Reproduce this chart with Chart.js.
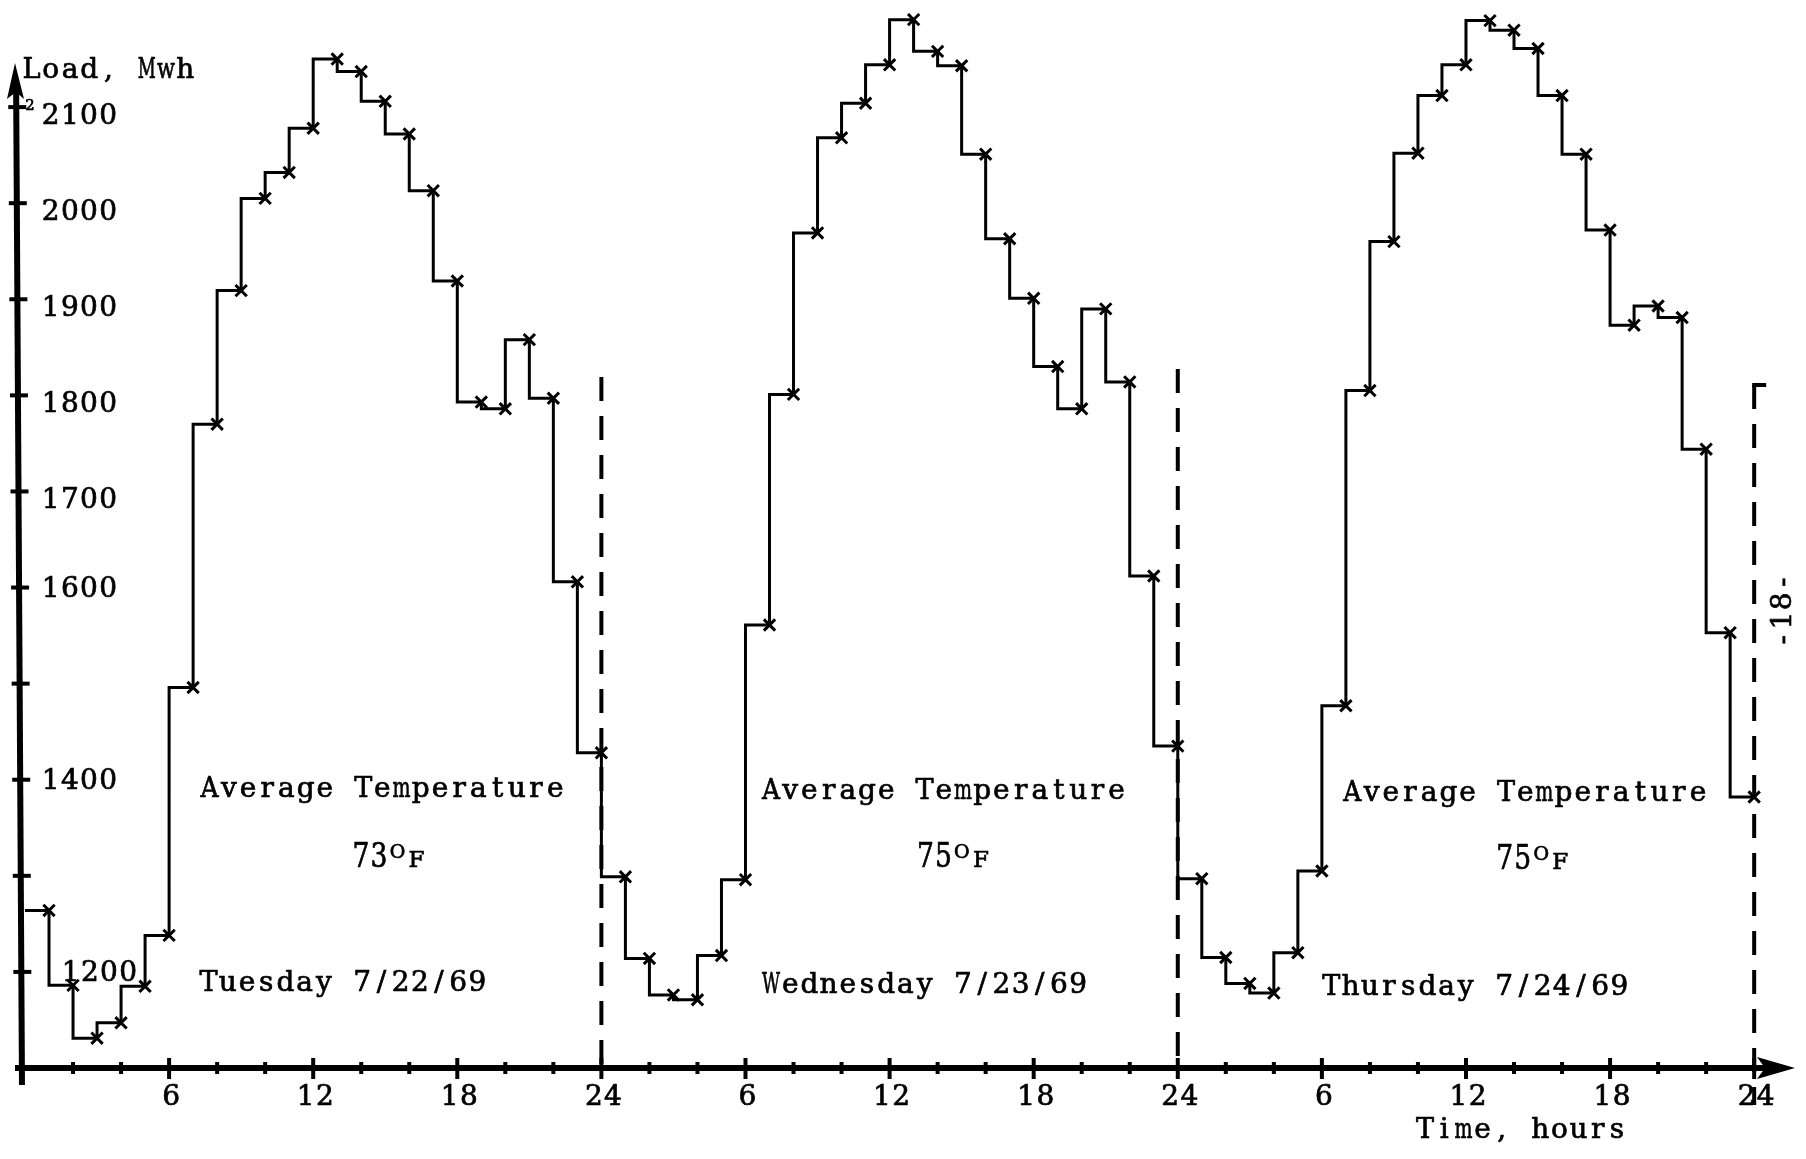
<!DOCTYPE html>
<html>
<head>
<meta charset="utf-8">
<script src="https://cdn.jsdelivr.net/npm/chart.js@4.4.0/dist/chart.umd.min.js"></script>
<style>
  html, body { margin: 0; padding: 0; background: #fff; }
  canvas { display: block; }
</style>
</head>
<body>
<canvas id="chart" width="1806" height="1159"></canvas>
<script>
// hourly load (Mwh), value at the end of each hour
const tuesday   = [1264, 1186, 1131, 1147, 1185, 1238, 1496, 1770, 1909, 2005, 2032, 2078,
                   2150, 2137, 2106, 2072, 2013, 1919, 1793, 1786, 1858, 1797, 1606, 1428]
const wednesday = [1299, 1214, 1176, 1171, 1217, 1296, 1561, 1801, 1969, 2068, 2104, 2144,
                   2191, 2158, 2143, 2051, 1963, 1901, 1830, 1786, 1890, 1814, 1612, 1435]
const thursday  = [1297, 1215, 1188, 1178, 1220, 1305, 1477, 1805, 1960, 2052, 2112, 2144,
                   2190, 2180, 2161, 2112, 2051, 1972, 1873, 1893, 1881, 1744, 1553, 1382]

const dayNames = ["Tuesday 7/22/69", "Wednesday 7/23/69", "Thursday 7/24/69"]
const avgTemps = ["73", "75", "75"]

const hourLabels = ["6", "12", "18", "24"]
const loadTicks  = [1200, 1300, 1400, 1500, 1600, 1700, 1800, 1900, 2000, 2100]
const loadLabels = ["1200", "", "1400", "", "1600", "1700", "1800", "1900", "2000", "2100"]

const SERIF = '"DejaVu Serif", "Liberation Serif", serif'
const PITCH = 19.2

// one continuous step trace over the 72 hours, starting flat from hour 0
const load = tuesday.concat(wednesday, thursday)
const points = [{ x: 0, y: load[0] }].concat(load.map((v, i) => ({ x: i + 1, y: v })))

// where the typed notes sit, offsets from the start of each day
const dayLayout = [
    { avgX: 175, tempX: 327, dateX: 174, avgBase: 797, tempBase: 867, dateBase: 991, divTop: 377, divEnd: 0 },
    { avgX: 160, tempX: 315, dateX: 160, avgBase: 799, tempBase: 867, dateBase: 993, divTop: 369, divEnd: 0 },
    { avgX: 165, tempX: 318, dateX: 144, avgBase: 801, tempBase: 869, dateBase: 995, divTop: 385, divEnd: 37 },
]

// slight lean of the hand-drawn load axis
const axisXAt = (py) => 16 + (py - 65) * (6 / 1020)

// fixed-pitch "typewriter" text: every glyph centred in its own cell,
// with a thin outline so the strokes come out as heavy as typed ink
function typeText(ctx, str, x, base, size, pitch, align) {
    ctx.font = `${size}px ${SERIF}`
    ctx.textAlign = "center"
    ctx.textBaseline = "alphabetic"
    ctx.lineWidth = 0.7
    const left = align === "center" ? x - (str.length * pitch) / 2 : x
    for (let i = 0; i < str.length; i++) {
        const ch = str[i]
        if (ch === " ") continue
        const w = ctx.measureText(ch).width
        const maxW = pitch * 0.94
        ctx.save()
        ctx.translate(left + i * pitch + pitch / 2, base)
        if (w > maxW) ctx.scale(maxW / w, 1)
        ctx.fillText(ch, 0, 0)
        ctx.strokeText(ch, 0, 0)
        ctx.restore()
    }
}

const typedAxes = {
    id: "typedAxes",
    beforeDatasetsDraw(chart) {
        const { ctx, scales: { x, y } } = chart
        const y0 = y.getPixelForValue(1100)
        ctx.save()
        ctx.strokeStyle = "#000"
        ctx.fillStyle = "#000"
        ctx.lineCap = "butt"

        // load axis + arrow
        ctx.lineWidth = 6
        ctx.beginPath()
        ctx.moveTo(axisXAt(y0 + 17), y0 + 17)
        ctx.lineTo(axisXAt(90), 90)
        ctx.stroke()
        ctx.beginPath()
        ctx.moveTo(15, 63)
        ctx.lineTo(24, 99)
        ctx.lineTo(16, 92)
        ctx.lineTo(7, 99)
        ctx.closePath()
        ctx.fill()

        // time axis + arrow
        ctx.beginPath()
        ctx.moveTo(15, y0)
        ctx.lineTo(1775, y0)
        ctx.stroke()
        ctx.beginPath()
        ctx.moveTo(1795, y0)
        ctx.lineTo(1757, y0 - 11)
        ctx.lineTo(1765, y0)
        ctx.lineTo(1757, y0 + 11)
        ctx.closePath()
        ctx.fill()

        // load ticks
        ctx.lineWidth = 4
        loadTicks.forEach((v) => {
            const py = y.getPixelForValue(v)
            const ax = axisXAt(py)
            ctx.beginPath()
            ctx.moveTo(ax - 8, py)
            ctx.lineTo(ax + 10, py)
            ctx.stroke()
        })

        // hour ticks, every 2 h, longer every 6 h
        for (let h = 2; h <= 72; h += 2) {
            const px = x.getPixelForValue(h)
            const major = h % 6 === 0
            ctx.beginPath()
            ctx.moveTo(px, y0 - (major ? 10 : 6))
            ctx.lineTo(px, y0 + (major ? 11 : 6))
            ctx.stroke()
        }

        // midnight dividers
        ctx.setLineDash([24, 15])
        dayLayout.forEach((d, i) => {
            const px = x.getPixelForValue(24 * (i + 1))
            ctx.beginPath()
            ctx.moveTo(px, d.divTop)
            ctx.lineTo(px, y0 + d.divEnd)
            ctx.stroke()
        })
        ctx.setLineDash([])
        const lastDiv = x.getPixelForValue(72)
        ctx.beginPath()
        ctx.moveTo(lastDiv - 2, dayLayout[2].divTop)
        ctx.lineTo(lastDiv + 12, dayLayout[2].divTop)
        ctx.stroke()

        // typed labels
        typeText(ctx, "Load, Mwh", 22, 78, 28, PITCH)

        loadTicks.forEach((v, i) => {
            const label = loadLabels[i]
            if (!label) return
            const py = y.getPixelForValue(v)
            const drop = v >= 1700 ? 17 : 9
            typeText(ctx, label, v === 1200 ? 61 : 41, py + drop, 28, PITCH)
        })
        typeText(ctx, "2", 25, 110, 15, 10)

        for (let h = 6; h <= 72; h += 6) {
            const lbl = hourLabels[(h / 6 - 1) % 4]
            typeText(ctx, lbl, x.getPixelForValue(h) + 2, 1105, 28, PITCH, "center")
        }
        typeText(ctx, "Time, hours", 1521, 1138, 28, PITCH, "center")

        dayLayout.forEach((d, i) => {
            const start = x.getPixelForValue(24 * i)
            typeText(ctx, "Average Temperature", start + d.avgX, d.avgBase, 28, PITCH)
            typeText(ctx, dayNames[i], start + d.dateX, d.dateBase, 28, PITCH)

            const tx = start + d.tempX
            typeText(ctx, avgTemps[i], tx, d.tempBase, 33, 18)
            typeText(ctx, "O", tx + 36, d.tempBase - 9, 19, 19)
            typeText(ctx, "F", tx + 55, d.tempBase, 23, 19)
        })

        // page number, typed sideways
        ctx.save()
        ctx.translate(1781, 611)
        ctx.rotate(-Math.PI / 2)
        typeText(ctx, "-18-", 0, 10, 28, PITCH, "center")
        ctx.restore()

        ctx.restore()
    },
}

new Chart(document.getElementById("chart"), {
    type: "line",
    data: {
        datasets: [{
            data: points,
            stepped: "after",
            borderColor: "#000",
            borderWidth: 3,
            fill: false,
            clip: false,
            pointStyle: "crossRot",
            pointRadius: (c) => (c.dataIndex === 0 ? 0 : 8),
            pointBorderColor: "#000",
            pointBorderWidth: 3,
        }],
    },
    options: {
        responsive: false,
        animation: false,
        devicePixelRatio: 1,
        layout: { padding: { left: 25, right: 10, top: 9, bottom: 91 } },
        scales: {
            x: { type: "linear", min: 0, max: 73.7, display: false },
            y: { type: "linear", min: 1100, max: 2200, display: false },
        },
        plugins: {
            legend: { display: false },
            tooltip: { enabled: false },
        },
    },
    plugins: [typedAxes],
})
</script>
</body>
</html>
